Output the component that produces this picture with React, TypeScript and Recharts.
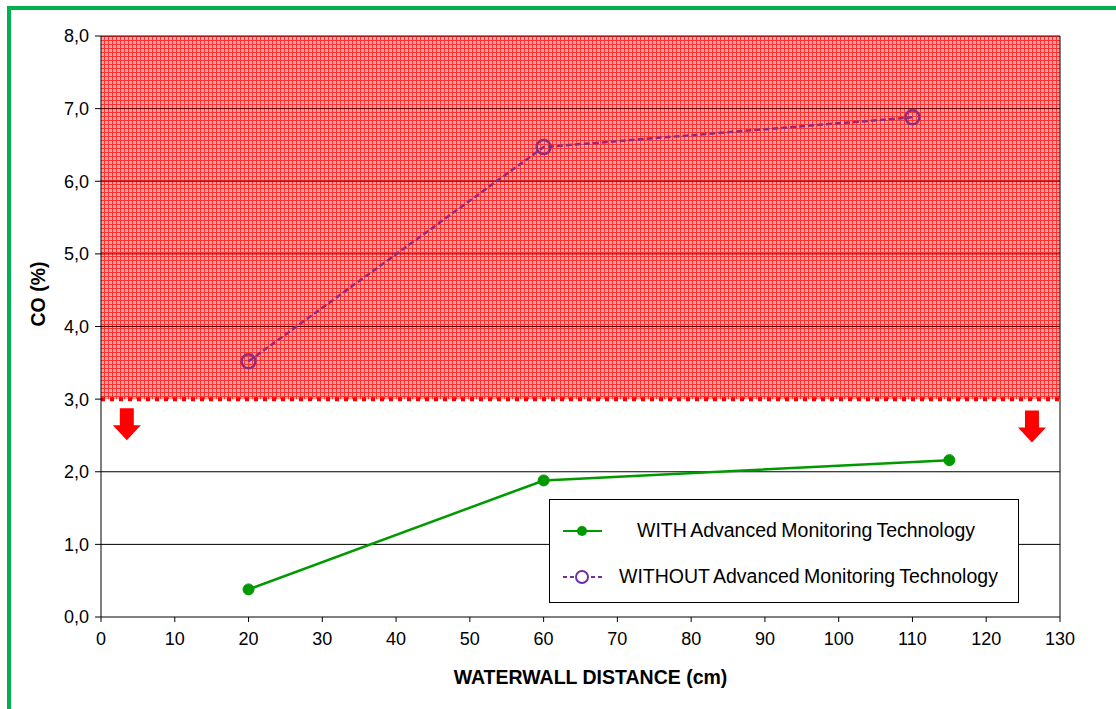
import {
  LineChart,
  Line,
  XAxis,
  YAxis,
  ReferenceArea,
  ReferenceLine,
  ReferenceDot,
} from "recharts";

const withTech = [
  { x: 20, y: 0.38 },
  { x: 60, y: 1.88 },
  { x: 115, y: 2.16 },
];

const withoutTech = [
  { x: 20, y: 3.52 },
  { x: 60, y: 6.47 },
  { x: 110, y: 6.88 },
];

const xTicks = [0, 10, 20, 30, 40, 50, 60, 70, 80, 90, 100, 110, 120, 130];
const yTicks = [0, 1, 2, 3, 4, 5, 6, 7, 8];
const gridLines = [1, 2, 4, 5, 6, 7, 8];
const limit = 3;
const arrows = [
  { x: 3.5, y: 2.64 },
  { x: 126.2, y: 2.61 },
];

const FONT = "Arial, 'Liberation Sans', sans-serif";
const GREEN = "#009a00";
const PURPLE = "#7030a0";
const LINE_PURPLE = "#8c2c7c";

// eslint-disable-next-line @typescript-eslint/no-explicit-any
const Arrow = (props: any) => {
  const { cx, cy } = props;
  const pts = [
    [cx - 7, cy - 17],
    [cx + 7, cy - 17],
    [cx + 7, cy],
    [cx + 14, cy],
    [cx, cy + 15],
    [cx - 14, cy],
    [cx - 7, cy],
  ]
    .map((p) => p.join(","))
    .join(" ");
  return <polygon points={pts} fill="#ff0000" />;
};

const LegendBox = () => (
  <div
    style={{
      position: "absolute",
      left: 549,
      top: 499,
      width: 468,
      height: 102,
      border: "1px solid #000",
      background: "#fff",
      fontFamily: FONT,
      fontSize: 19.5,
      color: "#000",
      whiteSpace: "nowrap",
    }}
  >
    <svg width={60} height={102} style={{ position: "absolute", left: 0, top: 0 }}>
      <line x1={13} x2={52} y1={31} y2={31} stroke={GREEN} strokeWidth={2} />
      <circle cx={32} cy={31} r={5} fill={GREEN} />
      <line x1={13} x2={52} y1={77} y2={77} stroke={PURPLE} strokeWidth={2} strokeDasharray="4 3" />
      <circle cx={32} cy={77} r={6} fill="#fff" stroke={PURPLE} strokeWidth={2} />
    </svg>
    <div style={{ position: "absolute", left: 87, top: 19, wordSpacing: -1 }}>
      WITH Advanced Monitoring Technology
    </div>
    <div style={{ position: "absolute", left: 69, top: 65, wordSpacing: -1 }}>
      WITHOUT Advanced Monitoring Technology
    </div>
  </div>
);

export default function App() {
  return (
    <div
      style={{
        position: "absolute",
        left: 0,
        top: 0,
        width: 1116,
        height: 709,
        background: "#fff",
        overflow: "hidden",
      }}
    >
      <div
        style={{
          position: "absolute",
          left: 7,
          top: 6,
          width: 1200,
          height: 800,
          borderTop: "4px solid #00b050",
          borderLeft: "4px solid #00b050",
        }}
      />
      <LineChart
        width={1116}
        height={709}
        margin={{ top: 36, right: 56, bottom: 0, left: 0 }}
        style={{ position: "absolute", left: 0, top: 0, fontFamily: FONT }}
      >
        <defs>
          <pattern id="hatch" width={4} height={4} patternUnits="userSpaceOnUse">
            <rect width={4} height={4} fill="#ffa4a4" />
            <rect width={4} height={1} fill="#ff3030" />
            <rect width={1} height={4} fill="#ff3030" />
          </pattern>
        </defs>
        <XAxis
          type="number"
          dataKey="x"
          domain={[0, 130]}
          ticks={xTicks}
          height={92}
          interval={0}
          stroke="#000"
          tickSize={5}
          tick={{ fill: "#000", fontSize: 18, fontFamily: FONT, dy: 8 }}
          label={{
            value: "WATERWALL DISTANCE (cm)",
            position: "insideBottom",
            offset: 25,
            dx: 10,
            fill: "#000",
            fontSize: 19.5,
            fontWeight: "bold",
            fontFamily: FONT,
          }}
          allowDuplicatedCategory={false}
        />
        <YAxis
          type="number"
          domain={[0, 8]}
          ticks={yTicks}
          width={101}
          interval={0}
          stroke="#000"
          tickSize={6}
          tickFormatter={(v: number) => v.toFixed(1).replace(".", ",")}
          tick={{ fill: "#000", fontSize: 18, fontFamily: FONT, dx: -4 }}
          label={{
            value: "CO (%)",
            angle: -90,
            position: "insideLeft",
            offset: 38,
            fill: "#000",
            fontSize: 19.5,
            fontWeight: "bold",
            fontFamily: FONT,
          }}
        />
        <ReferenceArea
          y1={limit}
          y2={8}
          x1={0}
          x2={130}
          fill="url(#hatch)"
          fillOpacity={1}
          stroke="none"
        />
        {gridLines.map((g) => (
          <ReferenceLine key={g} y={g} stroke={g > limit ? "#600000" : "#000"} strokeWidth={1} />
        ))}
        <ReferenceLine x={130} stroke="#000" strokeWidth={1} />
        <ReferenceLine y={limit} stroke="#ff0000" strokeWidth={4} strokeDasharray="4 5" />
        {arrows.map((a, i) => (
          <ReferenceDot key={i} x={a.x} y={a.y} r={1} shape={Arrow} />
        ))}
        <Line
          data={withoutTech}
          dataKey="y"
          name="WITHOUT Advanced Monitoring Technology"
          stroke={LINE_PURPLE}
          strokeWidth={2.5}
          strokeDasharray="6 3"
          dot={{ r: 7, fill: "none", stroke: LINE_PURPLE, strokeWidth: 2.5, strokeDasharray: "" }}
          isAnimationActive={false}
        />
        <Line
          data={withTech}
          dataKey="y"
          name="WITH Advanced Monitoring Technology"
          stroke={GREEN}
          strokeWidth={2.5}
          dot={{ r: 5.5, fill: GREEN, stroke: GREEN, strokeWidth: 1 }}
          isAnimationActive={false}
        />
      </LineChart>
      <LegendBox />
    </div>
  );
}
